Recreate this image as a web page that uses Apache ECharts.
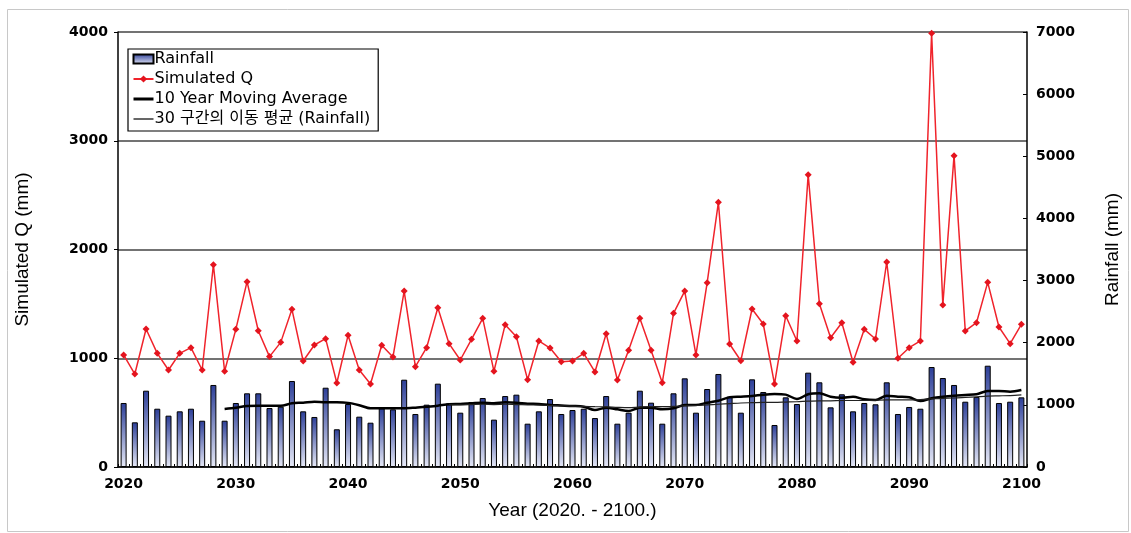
<!DOCTYPE html>
<html>
<head>
<meta charset="utf-8">
<script src="https://cdn.jsdelivr.net/npm/echarts@6/dist/echarts.min.js"></script>
<style>
html,body{margin:0;padding:0;background:#fff;}
#chart{width:1131px;height:533px;}
</style>
</head>
<body>
<div id="chart"></div>
<script>
const years = [];
for (let y = 2020; y <= 2100; y++) years.push(String(y));

const simulatedQ = [
  1030, 855, 1269, 1045, 892, 1045, 1097, 892, 1860, 880,
  1266, 1704, 1253, 1015, 1146, 1450, 975, 1122, 1180, 772,
  1211, 892, 763, 1119, 1011, 1618, 922, 1097, 1465, 1134,
  984, 1174, 1367, 880, 1309, 1198, 803, 1159, 1094, 968,
  975, 1045, 874, 1226, 800, 1073, 1367, 1073, 775, 1413,
  1618, 1030, 1695, 2434, 1131, 977, 1453, 1315, 763, 1391,
  1159, 2688, 1502, 1189, 1327, 963, 1266, 1177, 1885, 1000,
  1097, 1159, 3988, 1490, 2863, 1251, 1327, 1698, 1287, 1134,
  1312
];

const rainfall = [
  1030, 719, 1228, 938, 826, 896, 938, 745, 1320, 745,
  1030, 1186, 1186, 949, 970, 1384, 896, 805, 1276, 607,
  1014, 810, 713, 944, 928, 1405, 853, 1003, 1341, 1025,
  874, 1046, 1110, 762, 1142, 1164, 697, 896, 1094, 853,
  917, 938, 788, 1142, 697, 874, 1228, 1035, 697, 1186,
  1427, 874, 1255, 1497, 1131, 874, 1411, 1207, 676, 1121,
  1014, 1518, 1363, 960, 1170, 896, 1030, 1009, 1363, 853,
  966, 938, 1609, 1432, 1320, 1051, 1126, 1630, 1030, 1051,
  1121
];

const ma10 = [
  null, null, null, null, null, null, null, null, null, 935,
  955, 982, 985, 985, 985, 1025, 1035, 1051, 1041, 1041,
  1032, 995, 944, 944, 944, 944, 955, 970, 987, 1009,
  1014, 1025, 1035, 1025, 1041, 1035, 1019, 1014, 998, 990,
  982, 970, 917, 955, 928, 901, 955, 955, 928, 944,
  998, 998, 1035, 1067, 1121, 1131, 1142, 1164, 1175, 1165,
  1094, 1170, 1186, 1131, 1115, 1131, 1089, 1078, 1148, 1131,
  1121, 1062, 1105, 1131, 1148, 1159, 1170, 1223, 1223, 1212,
  1239
];

const ma30 = [
  null, null, null, null, null, null, null, null, null, null,
  null, null, null, null, null, null, null, null, null, null,
  null, null, null, null, null, null, null, null, null, 1000,
  1000, 1005, 1010, 1005, 1010, 1005, 1000, 995, 990, 985,
  980, 975, 970, 968, 960, 955, 965, 970, 970, 975,
  985, 990, 1000, 1010, 1020, 1030, 1035, 1040, 1040, 1045,
  1050, 1060, 1065, 1065, 1070, 1070, 1070, 1075, 1080, 1080,
  1080, 1085, 1095, 1105, 1110, 1120, 1130, 1140, 1145, 1150,
  1160
];

const chart = echarts.init(document.getElementById('chart'), null, {renderer: 'canvas'});
const labelFont = {fontFamily: 'DejaVu Sans', fontWeight: 'bold', fontSize: 14, color: '#000'};
const titleFont = {fontFamily: 'Liberation Sans, Noto Sans CJK KR', fontSize: 19, color: '#000'};
const plain = v => String(v);

chart.setOption({
  backgroundColor: '#fff',
  animation: false,
  graphic: [{
    type: 'rect', left: 5, top: 7, z: -10,
    shape: {width: 1121, height: 522},
    style: {fill: 'none', stroke: '#c8c8c8', lineWidth: 1}
  }],
  grid: {left: 118, right: 104, top: 32, bottom: 66, show: false},
  legend: {
    orient: 'vertical', left: 128, top: 49,
    borderColor: '#000', borderWidth: 1.2, padding: [2, 8, 4, 4],
    itemGap: 4, itemWidth: 20, itemHeight: 9,
    textStyle: {fontFamily: 'DejaVu Sans, Noto Sans CJK KR', fontSize: 16, color: '#000', padding: [0, 0, 0, -4]},
    data: [
      {name: 'Rainfall', icon: 'rect'},
      {name: 'Simulated Q'},
      {name: '10 Year Moving Average', itemStyle: {opacity: 0}, lineStyle: {width: 3, color: '#000'}},
      {name: '30 구간의 이동 평균 (Rainfall)', itemStyle: {opacity: 0}, lineStyle: {width: 1.2, color: '#000'}}
    ]
  },
  xAxis: {
    type: 'category', data: years, boundaryGap: true,
    name: 'Year (2020. - 2100.)', nameLocation: 'middle', nameGap: 34,
    nameTextStyle: titleFont,
    axisLine: {lineStyle: {color: '#000', width: 1.5}},
    axisTick: {show: true, inside: true, length: 3, interval: 0, lineStyle: {color: '#000'}},
    axisLabel: Object.assign({interval: 9, margin: 10}, labelFont),
    splitLine: {show: false}
  },
  yAxis: [{
    type: 'value', min: 0, max: 4000, interval: 1000,
    name: 'Simulated Q (mm)', nameLocation: 'middle', nameGap: 86, nameRotate: 90,
    nameTextStyle: titleFont,
    axisLine: {show: true, lineStyle: {color: '#000', width: 1.5}},
    axisTick: {show: true, length: 4, lineStyle: {color: '#000'}},
    axisLabel: Object.assign({margin: 10, formatter: plain}, labelFont),
    splitLine: {show: true, lineStyle: {color: '#444', width: 1.5}}
  }, {
    type: 'value', min: 0, max: 7000, interval: 1000, position: 'right',
    name: 'Rainfall (mm)', nameLocation: 'middle', nameGap: 76, nameRotate: 90,
    nameTextStyle: titleFont,
    axisLine: {show: true, lineStyle: {color: '#000', width: 1.5}},
    axisTick: {show: true, inside: true, length: 4, lineStyle: {color: '#000'}},
    axisLabel: Object.assign({margin: 9, formatter: plain}, labelFont),
    splitLine: {show: false}
  }],
  series: [{
    name: 'Rainfall', type: 'bar', yAxisIndex: 1, data: rainfall,
    barWidth: 6, z: 2,
    itemStyle: {
      borderColor: '#000', borderWidth: 1,
      color: new echarts.graphic.LinearGradient(0, 0, 0, 1, [
        {offset: 0, color: '#2c3e98'},
        {offset: 1, color: '#e6e9f7'}
      ])
    }
  }, {
    name: 'Simulated Q', type: 'line', yAxisIndex: 0, data: simulatedQ,
    z: 4, symbol: 'diamond', symbolSize: 7, showSymbol: true,
    lineStyle: {color: '#f0232b', width: 1.5},
    itemStyle: {color: '#e4141e'}
  }, {
    name: '10 Year Moving Average', type: 'line', yAxisIndex: 1, data: ma10,
    z: 3, symbol: 'none', smooth: 0.3,
    lineStyle: {color: '#000', width: 2.5},
    itemStyle: {color: '#000'}
  }, {
    name: '30 구간의 이동 평균 (Rainfall)', type: 'line', yAxisIndex: 1, data: ma30,
    z: 3, symbol: 'none', smooth: 0.3,
    lineStyle: {color: '#222', width: 1.2},
    itemStyle: {color: '#222'}
  }]
});
</script>
</body>
</html>
